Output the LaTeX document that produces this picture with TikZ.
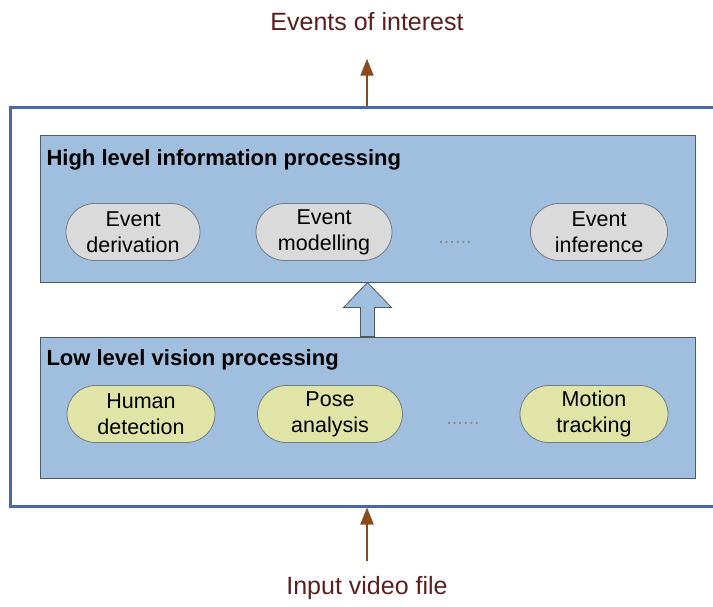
\documentclass[tikz,border=0pt]{standalone}
\usepackage{fontspec}
\setmainfont{Liberation Sans}
\usetikzlibrary{shapes.misc}
\usetikzlibrary{arrows.meta}
\usetikzlibrary{calc}

\definecolor{framecol}{RGB}{74,104,168}
\definecolor{boxfill}{RGB}{160,190,221}
\definecolor{boxline}{RGB}{80,90,100}
\definecolor{greyoval}{RGB}{218,218,218}
\definecolor{yellowoval}{RGB}{224,228,166}
\definecolor{brownarrow}{RGB}{139,74,28}
\definecolor{redtext}{RGB}{90,30,30}

\begin{document}
\begin{tikzpicture}[x=1pt, y=-1pt, >={Triangle[length=17pt,width=13pt]},
    layer/.style={draw=boxline, fill=boxfill, line width=1pt, minimum width=655pt, inner sep=0pt},
    title/.style={anchor=west, font=\bfseries\fontsize{22}{24}\selectfont},
    oval/.style={rounded rectangle, draw=boxline!80, line width=.8pt, align=center, inner sep=0pt,
        minimum width=140pt, minimum height=57pt, font=\fontsize{21.5}{26}\selectfont},
    label/.style={text=redtext, font=\fontsize{25}{27}\selectfont}]
    \useasboundingbox (0,0) rectangle (713,606);
    \node[draw=framecol, line width=3pt, minimum width=712pt, minimum height=399pt, inner sep=0pt] (frame) at (366,306.5) {};
    \node[layer, minimum height=147pt] (high) at (367.5,208.5) {};
    \node[layer, minimum height=141pt] (low) at (367.5,407.5) {};
    \node[title] (hightitle) at (43,160) {High level information processing};
    \node[title] (lowtitle) at (43,360) {Low level vision processing};
    % ovals of both layers
    \foreach \name/\x/\w/\txt in {derive/133/134/Event\\derivation, model/324/136/Event\\modelling, infer/599/137/Event\\inference}
    {\node[oval, fill=greyoval, minimum width=\w pt] (\name) at (\x,232) {\txt};}
    \foreach \name/\x/\w/\txt in {human/141/148/Human\\detection, pose/330/145/Pose\\analysis, motion/594/148/Motion\\tracking}
    {\node[oval, fill=yellowoval, minimum width=\w pt] (\name) at (\x,414) {\txt};}
    \node[text=boxline!70, font=\fontsize{20}{20}\selectfont] (highdots) at (455,242) {......};
    \node[text=boxline!70, font=\fontsize{20}{20}\selectfont] (lowdots) at (463,423) {......};
    % block arrow from low to high
    \draw[draw=boxline, fill=boxfill, line width=.8pt]
        ($(low.north)+(-7,0)$) -- ($(high.south)+(-7,25)$) -- ($(high.south)+(-24,25)$) -- (high.south)
        -- ($(high.south)+(24,25)$) -- ($(high.south)+(7,25)$) -- ($(low.north)+(7,0)$) -- cycle;
    % in and out
    \node[label] (events) at (367,22) {Events of interest};
    \node[label] (input) at (367,588) {Input video file};
    \draw[->, brownarrow, line width=2pt] (frame.north -| events) -- ($(events.south)+(0,24)$);
    \coordinate (inputtail) at ($(input.north)+(0,-12)$);
    \draw[->, brownarrow, line width=2pt] (inputtail) -- (frame.south -| input);
\end{tikzpicture}
\end{document}
